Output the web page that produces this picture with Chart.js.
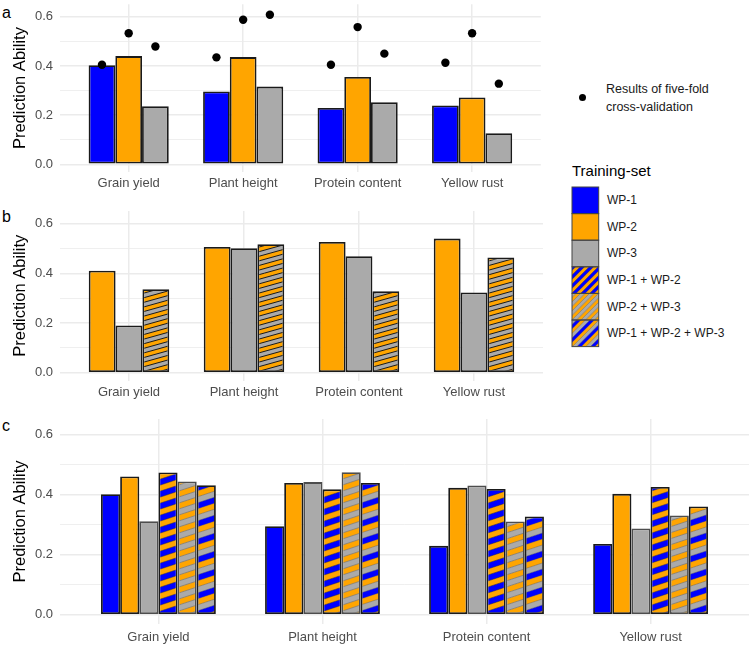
<!DOCTYPE html>
<html>
<head>
<meta charset="utf-8">
<script src="https://cdn.jsdelivr.net/npm/chart.js@4.4.1/dist/chart.umd.min.js"></script>
<style>
  body { margin: 0; width: 749px; height: 646px; position: relative; background: #fff; overflow: hidden;
         font-family: "Liberation Sans", Arial, sans-serif; }
  .abs { position: absolute; }
  .tag { position: absolute; font-size: 16px; line-height: 16px; color: #000; }
  .lg { position: absolute; font-size: 12px; line-height: 18.4px; color: #1a1a1a; white-space: nowrap; }
</style>
</head>
<body>
<div class="tag" style="left:2px;top:5px">a</div>
<div class="tag" style="left:2px;top:209px">b</div>
<div class="tag" style="left:2px;top:418px">c</div>

<canvas id="pa" class="abs" style="left:0;top:0" width="545" height="190"></canvas>
<canvas id="pb" class="abs" style="left:0;top:200px" width="545" height="200"></canvas>
<canvas id="pc" class="abs" style="left:0;top:400px" width="749" height="246"></canvas>

<div class="abs" style="left:578.8px;top:94.2px;width:7px;height:7px;border-radius:50%;background:#000"></div>
<div class="lg" style="left:606px;top:80px;font-size:12.5px">Results of five-fold<br>cross-validation</div>
<div class="lg" style="left:572px;top:162px;font-size:15px;color:#000">Training-set</div>
<canvas id="leg" class="abs" style="left:571px;top:186px" width="29" height="162"></canvas>
<div id="legLabels"></div>

<script>
const traits = ['Grain yield', 'Plant height', 'Protein content', 'Yellow rust'];
const yTicks = [0, 0.1, 0.2, 0.3, 0.4, 0.5, 0.6];

// panel a: single training populations + five-fold CV
const aWP1 = [0.403, 0.296, 0.229, 0.239];
const aWP2 = [0.440, 0.436, 0.355, 0.272];
const aWP3 = [0.236, 0.316, 0.252, 0.127];
const cvWP1 = [0.405, 0.435, 0.405, 0.413];
const cvWP2 = [0.533, 0.588, 0.558, 0.533];
const cvWP3 = [0.479, 0.608, 0.450, 0.328];

// panel b
const bWP2 = [0.411, 0.506, 0.526, 0.540];
const bWP3 = [0.190, 0.501, 0.469, 0.323];
const bWP23 = [0.336, 0.517, 0.328, 0.464];

// panel c
const cWP1 = [0.401, 0.294, 0.229, 0.235];
const cWP2 = [0.460, 0.438, 0.422, 0.402];
const cWP3 = [0.311, 0.441, 0.430, 0.287];
const cWP12 = [0.473, 0.417, 0.418, 0.425];
const cWP23 = [0.443, 0.474, 0.310, 0.330];
const cWP123 = [0.431, 0.438, 0.327, 0.360];

const legendNames = ['WP-1', 'WP-2', 'WP-3', 'WP-1 + WP-2', 'WP-2 + WP-3', 'WP-1 + WP-2 + WP-3'];

const BLUE = '#0000ff', ORANGE = '#ffa500', GREY = '#aaaaaa';
Chart.defaults.font.family = '"Liberation Sans", Arial, sans-serif';

// diagonal stripe fill, anchored at the canvas origin
function stripes(cols, band, slope, line, lw) {
    const W = 760, H = 660;
    const c = document.createElement('canvas');
    c.width = W; c.height = H;
    const g = c.getContext('2d');
    const n = Math.ceil((H + slope * W) / band) + 2;
    for (let k = 0; k < n; k++) {
        const y0 = k * band, y1 = (k + 1) * band + 0.5;
        g.fillStyle = cols[k % cols.length];
        g.beginPath();
        g.moveTo(0, y0); g.lineTo(W, y0 - slope * W);
        g.lineTo(W, y1 - slope * W); g.lineTo(0, y1);
        g.closePath(); g.fill();
    }
    if (line) {
        g.strokeStyle = line; g.lineWidth = lw;
        for (let k = 0; k < n; k++) {
            g.beginPath(); g.moveTo(0, k * band); g.lineTo(W, k * band - slope * W); g.stroke();
        }
    }
    return g.createPattern(c, 'no-repeat');
}

const xy = (arr) => arr.map((v, i) => ({ x: i + 1, y: v }));
const dodge = (arr, j, n) => arr.map((v, i) => ({ x: i + 1 + (j - (n - 1) / 2) * 0.7 / n, y: v }));

function bar(data, fill, border) {
    return { type: 'bar', data: xy(data), backgroundColor: fill, borderColor: border || '#1a1a1a',
             borderWidth: 1.8, borderSkipped: false, order: 1 };
}

function options(xHeight, labelPad) {
    return {
        responsive: false,
        animation: false,
        events: [],
        layout: { padding: { top: 0, right: 0, left: 0, bottom: 0 } },
        plugins: { legend: { display: false }, tooltip: { enabled: false } },
        datasets: { bar: { categoryPercentage: 0.7, barPercentage: 1.0, grouped: true } },
        scales: {
            x: {
                type: 'linear', min: 0.4, max: 4.6, offset: false,
                afterBuildTicks: ax => { ax.ticks = traits.map((t, i) => ({ value: i + 1 })); },
                afterFit: ax => { ax.height = xHeight; },
                ticks: { callback: (v, i) => traits[i], color: '#4d4d4d', font: { size: 13 },
                         padding: labelPad, maxRotation: 0, autoSkip: false },
                grid: { color: '#ebebeb', lineWidth: 1.5, drawTicks: false, offset: false },
                border: { display: false }
            },
            y: {
                min: -0.031, max: 0.651,
                afterBuildTicks: ax => { ax.ticks = yTicks.map(v => ({ value: v })); },
                afterFit: ax => { ax.width = 60; ax.paddingTop = 0; ax.paddingBottom = 0; },
                ticks: { callback: v => (Math.round(v * 10) % 2 === 0 ? v.toFixed(1) : ''),
                         color: '#4d4d4d', font: { size: 13 }, padding: 7 },
                grid: { color: '#ebebeb', drawTicks: false,
                        lineWidth: c => (Math.round(c.tick.value * 10) % 2 === 0 ? 1.5 : 0.8) },
                border: { display: false },
                title: { display: true, text: 'Prediction Ability', color: '#000',
                         font: { size: 16.5 }, padding: { top: 11, bottom: 0 } }
            }
        }
    };
}

// panel a
const optA = options(18, 4);
optA.layout.padding = { top: 1, right: 2, left: 0, bottom: 0 };
const cv = [cvWP1, cvWP2, cvWP3].flatMap((s, j) => dodge(s, j, 3));
new Chart(document.getElementById('pa'), {
    type: 'bar',
    data: {
        datasets: [
            bar(aWP1, BLUE), bar(aWP2, ORANGE), bar(aWP3, GREY),
            { type: 'scatter', data: cv, backgroundColor: '#000', borderWidth: 0,
              pointRadius: 4.2, showLine: false, order: 0 }
        ]
    },
    options: optA
});

// panel b
const hatchB = stripes([ORANGE, GREY], 4.6, 0.28, '#1a1a1a', 1);
const optB = options(19.5, 4);
optB.layout.padding = { top: 11, right: 2, left: 0, bottom: 0 };
new Chart(document.getElementById('pb'), {
    type: 'bar',
    data: { datasets: [bar(bWP2, ORANGE), bar(bWP3, GREY), bar(bWP23, hatchB)] },
    options: optB
});

// panel c
const h12 = stripes([BLUE, ORANGE], 6, 0.33, '#333', 0.5);
const h23 = stripes([GREY, ORANGE], 6, 0.33, '#777', 0.7);
const h123 = stripes([GREY, BLUE, ORANGE], 6, 0.33, '#555', 0.4);
const optC = options(22, 6);
optC.layout.padding = { top: 19, right: 0, left: 0, bottom: 0 };
new Chart(document.getElementById('pc'), {
    type: 'bar',
    data: {
        datasets: [
            bar(cWP1, BLUE), bar(cWP2, ORANGE), bar(cWP3, GREY, '#4d4d4d'),
            bar(cWP12, h12), bar(cWP23, h23, '#4d4d4d'), bar(cWP123, h123)
        ]
    },
    options: optC
});

// legend keys
const leg = document.getElementById('leg');
const lg = leg.getContext('2d');
const keyFills = [BLUE, ORANGE, GREY,
    stripes([BLUE, ORANGE], 4.5, 1, '#333', 0.4),
    stripes([GREY, ORANGE], 4.5, 1, '#777', 0.6),
    stripes([GREY, BLUE, ORANGE], 4.5, 1, '#555', 0.4)];
const keyH = 26.6;
keyFills.forEach((f, i) => {
    lg.fillStyle = f;
    lg.fillRect(1, 1 + i * keyH, 26.7, keyH);
});
lg.strokeStyle = '#444';
lg.lineWidth = 1;
keyFills.forEach((f, i) => lg.strokeRect(1, 1 + i * keyH, 26.7, keyH));

const labels = document.getElementById('legLabels');
legendNames.forEach((name, i) => {
    const d = document.createElement('div');
    d.className = 'lg';
    d.style.left = '607px';
    d.style.top = (187 + i * keyH + keyH / 2 - 9.2) + 'px';
    d.textContent = name;
    labels.appendChild(d);
});
</script>
</body>
</html>
